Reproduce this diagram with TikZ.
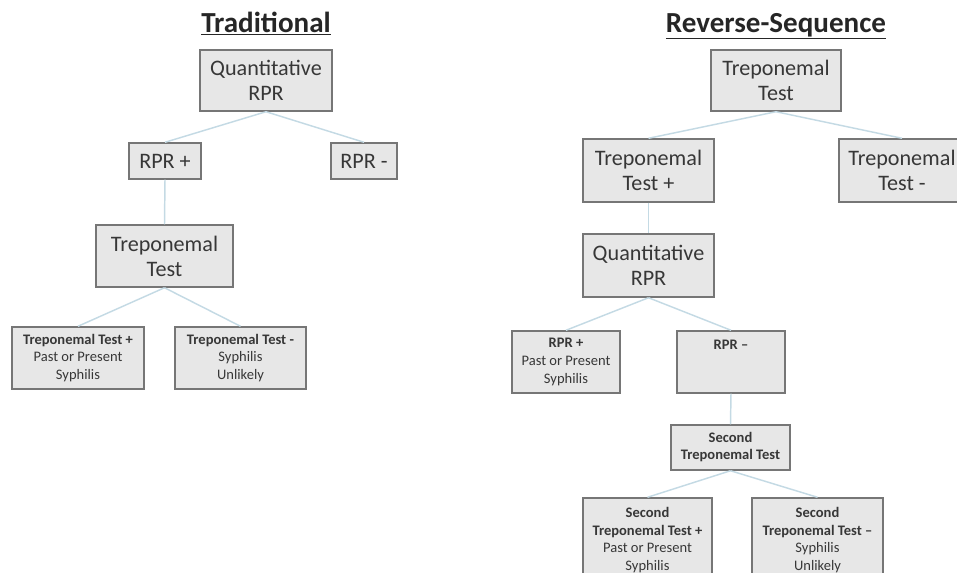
\documentclass[tikz,border=0pt]{standalone}
\usepackage{fontspec}
\setmainfont{Carlito}
\definecolor{linkblue}{RGB}{196,218,228}
\definecolor{boxfill}{RGB}{231,231,231}
\definecolor{boxline}{RGB}{118,118,118}
\definecolor{boxtext}{RGB}{55,55,55}
\begin{document}
\begin{tikzpicture}[x=0.75pt,y=-0.75pt]
\tikzstyle{every node}+=[inner sep=0pt, align=center, text=boxtext]
\tikzstyle{bigbox}=[draw=boxline, fill=boxfill, line width=1.1pt, font=\fontsize{16.6}{18.8}\selectfont]
\tikzstyle{smallbox}=[draw=boxline, fill=boxfill, line width=1.1pt, font=\fontsize{10.9}{13.2}\selectfont]
\tikzstyle{heading}=[font=\fontsize{21.8}{24}\selectfont\bfseries, text=black!85, anchor=base]
\tikzstyle{link}=[draw=linkblue, line width=1.1pt]
\useasboundingbox (0,0) rectangle (957,572);
% Traditional
\node [heading] (tradtitle) at (266,32) {\underline{Traditional}};
\node [bigbox, minimum width=99pt, minimum height=45.75pt] (qrpr) at (266,80.5) {Quantitative\\RPR};
\node [bigbox, minimum width=54pt, minimum height=27pt] (rprpos) at (165,161) {RPR +};
\node [bigbox, minimum width=49.5pt, minimum height=27pt] (rprneg) at (364,161) {RPR -};
\node [bigbox, minimum width=102.75pt, minimum height=46.5pt] (trep) at (164.5,256) {Treponemal\\Test};
\node [smallbox, minimum width=99pt, minimum height=46.5pt] (treppos) at (78,358) {\textbf{Treponemal Test +}\\Past or Present\\Syphilis};
\node [smallbox, minimum width=98.25pt, minimum height=46.5pt] (trepneg) at (240.5,358) {\textbf{Treponemal Test -}\\Syphilis\\Unlikely};
\draw [link] (qrpr.south) -- (rprpos.north);
\draw [link] (qrpr.south) -- (rprneg.north);
\draw [link] (rprpos.south) -- (trep.north);
\draw [link] (trep.south) -- (treppos.north);
\draw [link] (trep.south) -- (trepneg.north);
% Reverse-Sequence
\node [heading] (revtitle) at (776,32) {\underline{Reverse-Sequence}};
\node [bigbox, minimum width=97.5pt, minimum height=45.75pt] (rtrep) at (776,80.5) {Treponemal\\Test};
\node [bigbox, minimum width=98.25pt, minimum height=47.25pt] (rtreppos) at (648.5,170.5) {Treponemal\\Test +};
\node [bigbox, minimum width=94.5pt, minimum height=47.25pt] (rtrepneg) at (902,170.5) {Treponemal\\Test -};
\node [bigbox, minimum width=98.25pt, minimum height=47.25pt] (rqrpr) at (648.5,265.5) {Quantitative\\RPR};
\node [smallbox, minimum width=81pt, minimum height=46.5pt] (rrprpos) at (566,362) {\textbf{RPR +}\\Past or Present\\Syphilis};
\node [smallbox, minimum width=81pt, minimum height=46.5pt] (rrprneg) at (731,362) {\textbf{RPR –}\\\mbox{}\\\mbox{}};
\node [smallbox, minimum width=89.25pt, minimum height=33.75pt, font=\fontsize{10.9}{12.8}\selectfont\bfseries] (second) at (730.5,447.5) {Second\\Treponemal Test};
\node [smallbox, minimum width=96.75pt, minimum height=63pt] (secpos) at (647.5,540) {\textbf{Second}\\\textbf{Treponemal Test +}\\Past or Present\\Syphilis};
\node [smallbox, minimum width=98.25pt, minimum height=63pt] (secneg) at (817.5,540) {\textbf{Second}\\\textbf{Treponemal Test –}\\Syphilis\\Unlikely};
\draw [link] (rtrep.south) -- (rtreppos.north);
\draw [link] (rtrep.south) -- (rtrepneg.north);
\draw [link] (rtreppos.south) -- (rqrpr.north);
\draw [link] (rqrpr.south) -- (rrprpos.north);
\draw [link] (rqrpr.south) -- (rrprneg.north);
\draw [link] (rrprneg.south) -- (second.north);
\draw [link] (second.south) -- (secpos.north);
\draw [link] (second.south) -- (secneg.north);
\end{tikzpicture}
\end{document}
